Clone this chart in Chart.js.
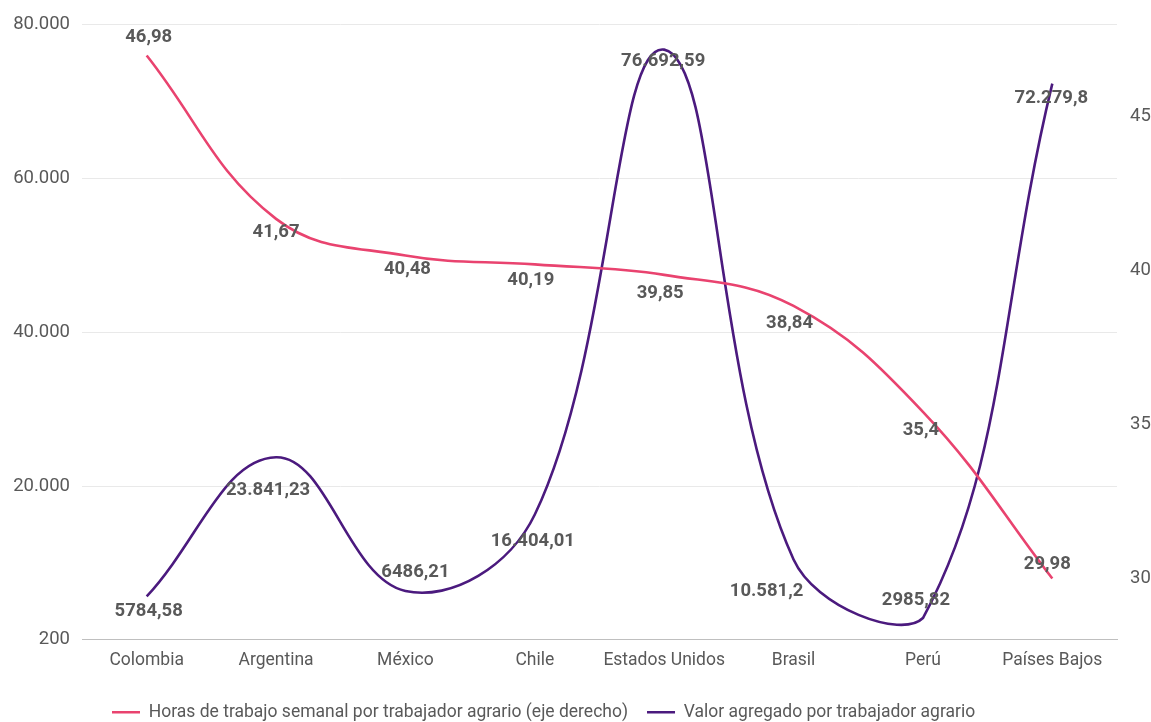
<!DOCTYPE html>
<html lang="es">
<head>
<meta charset="utf-8">
<title>Horas de trabajo y valor agregado por trabajador agrario</title>
<script src="https://cdn.jsdelivr.net/npm/chart.js@4.4.1/dist/chart.umd.min.js"></script>
<style>
  html, body { margin: 0; padding: 0; background: #ffffff; }
  #grafico { display: block; }
</style>
</head>
<body>
<canvas id="grafico" width="1151" height="722"></canvas>
<script>
// Países comparados
const categorias = ['Colombia', 'Argentina', 'México', 'Chile', 'Estados Unidos', 'Brasil', 'Perú', 'Países Bajos'];

// Horas de trabajo semanal por trabajador agrario (eje derecho)
const horasSemanales = [46.98, 41.67, 40.48, 40.19, 39.85, 38.84, 35.4, 29.98];

// Valor agregado por trabajador agrario (eje izquierdo)
const valorAgregado = [5784.58, 23841.23, 6486.21, 16404.01, 76692.59, 10581.2, 2985.82, 72279.8];

// Marcas de los ejes
const ticksIzquierdo = [200, 20000, 40000, 60000, 80000];
const ticksDerecho = [30, 35, 40, 45];

const FUENTE = 'Roboto, "Noto Sans", sans-serif';
const GRIS_TEXTO = '#595959';
const ROSA = '#e9436f';
const MORADO = '#4b1a7e';

// Formato numérico español: coma decimal, punto de miles a partir de 5 cifras
function formatoEs(v) {
  const s = String(v);
  let [entero, decimal] = s.split('.');
  if (entero.length > 4) entero = entero.replace(/\B(?=(\d{3})+(?!\d))/g, '.');
  return decimal ? entero + ',' + decimal : entero;
}

// Posición de cada etiqueta respecto a su punto [dx, dy]
const posEtiquetasHoras = [[2, -18], [0, 14], [2, 14], [-4, 16], [-4, 18], [-4, 17], [-2, 19], [-5, -14]];
const posEtiquetasValor = [[2, 15], [-8, 33], [10, -19], [-2, 27], [-1, 12], [-27, 32], [-7, -18], [-1, 15]];

// Etiquetas de valor sobre las líneas
const etiquetasValor = {
  id: 'etiquetasValor',
  afterDatasetsDraw(chart) {
    const ctx = chart.ctx;
    ctx.save();
    ctx.font = 'bold 18.5px ' + FUENTE;
    ctx.fillStyle = GRIS_TEXTO;
    ctx.textAlign = 'center';
    ctx.textBaseline = 'middle';
    chart.data.datasets.forEach((ds, i) => {
      const meta = chart.getDatasetMeta(i);
      meta.data.forEach((pt, j) => {
        const [dx, dy] = ds.posEtiquetas[j];
        ctx.fillText(formatoEs(ds.data[j]), pt.x + dx, pt.y + dy);
      });
    });
    ctx.restore();
  }
};

// Ubica la leyenda bajo el gráfico, alineada a la izquierda del eje
const ajusteLeyenda = {
  id: 'ajusteLeyenda',
  afterLayout(chart) {
    const lg = chart.legend;
    if (!lg) return;
    const dx = 93 - lg.left;
    lg.left += dx; lg.right += dx;
    lg.top += 9; lg.bottom += 9;
  }
};

new Chart(document.getElementById('grafico'), {
  type: 'line',
  data: {
    labels: categorias,
    datasets: [
      {
        label: 'Horas de trabajo semanal por trabajador agrario (eje derecho)',
        data: horasSemanales,
        yAxisID: 'yDer',
        borderColor: ROSA,
        backgroundColor: ROSA,
        borderWidth: 2.6,
        tension: 0.4,
        pointRadius: 0,
        pointHoverRadius: 0,
        fill: false,
        posEtiquetas: posEtiquetasHoras
      },
      {
        label: 'Valor agregado por trabajador agrario',
        data: valorAgregado,
        yAxisID: 'yIzq',
        borderColor: MORADO,
        backgroundColor: MORADO,
        borderWidth: 2.6,
        tension: 0.4,
        pointRadius: 0,
        pointHoverRadius: 0,
        fill: false,
        posEtiquetas: posEtiquetasValor
      }
    ]
  },
  options: {
    responsive: false,
    animation: false,
    devicePixelRatio: 1,
    layout: { padding: { top: 24, left: 0, right: 0, bottom: 0 } },
    plugins: {
      legend: {
        position: 'bottom',
        align: 'start',
        labels: {
          usePointStyle: true,
          pointStyle: 'line',
          pointStyleWidth: 28,
          boxHeight: 17,
          padding: 19,
          color: GRIS_TEXTO,
          font: { family: FUENTE, size: 17.5 }
        }
      },
      tooltip: { enabled: false }
    },
    scales: {
      x: {
        type: 'category',
        offset: true,
        grid: { display: false, drawTicks: false },
        border: { display: true, color: '#bfbfbf', width: 1 },
        ticks: {
          color: GRIS_TEXTO,
          font: { family: FUENTE, size: 17.5 },
          padding: 11,
          maxRotation: 0,
          autoSkip: false
        },
        afterFit(s) { s.height = 36; }
      },
      yIzq: {
        type: 'linear',
        position: 'left',
        min: 200,
        max: 80000,
        afterBuildTicks(s) { s.ticks = ticksIzquierdo.map(v => ({ value: v })); },
        ticks: {
          color: GRIS_TEXTO,
          font: { family: FUENTE, size: 18.5 },
          padding: 12,
          callback: v => formatoEs(v)
        },
        grid: {
          drawTicks: false,
          lineWidth: 1,
          color: c => (c.tick && c.tick.value === 200) ? 'rgba(0,0,0,0)' : '#e9e9e9'
        },
        border: { display: false },
        afterFit(s) { s.width = 82; }
      },
      yDer: {
        type: 'linear',
        position: 'right',
        min: 28,
        max: 48,
        afterBuildTicks(s) { s.ticks = ticksDerecho.map(v => ({ value: v })); },
        ticks: {
          color: GRIS_TEXTO,
          font: { family: FUENTE, size: 18.5 },
          padding: 13,
          callback: v => formatoEs(v)
        },
        grid: { drawOnChartArea: false, drawTicks: false },
        border: { display: false },
        afterFit(s) { s.width = 34; }
      }
    }
  },
  plugins: [etiquetasValor, ajusteLeyenda]
});
</script>
</body>
</html>
